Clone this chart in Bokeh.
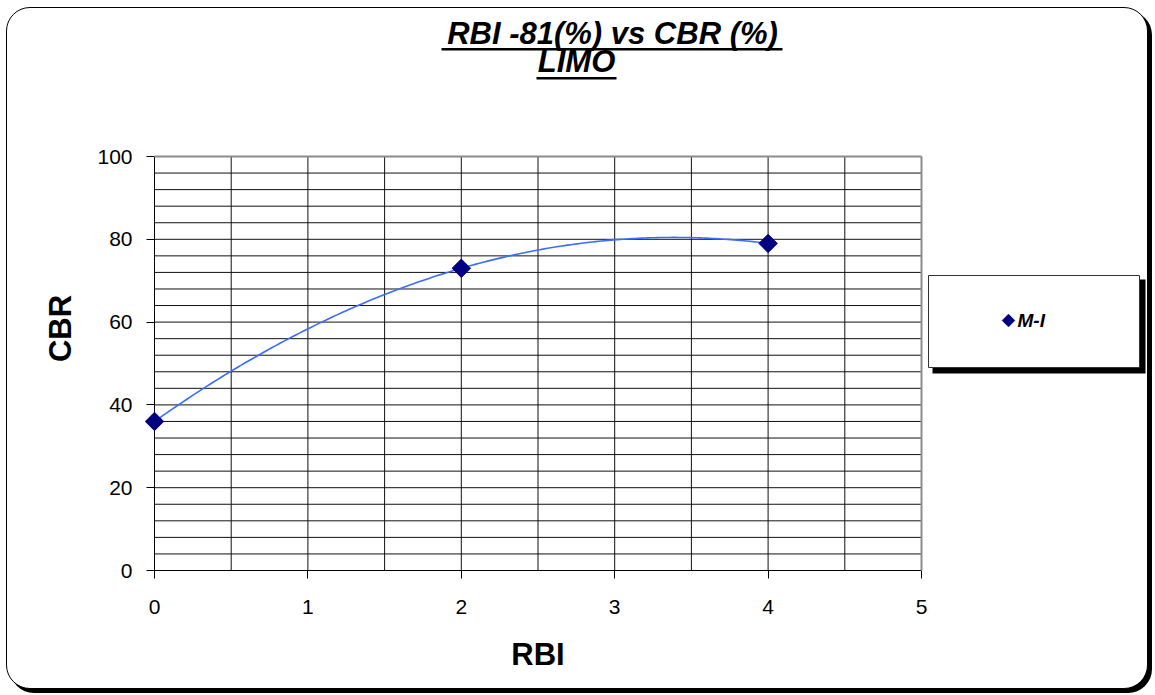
import numpy as np
from bokeh.plotting import figure
from bokeh.models import FixedTicker, Label, BoxAnnotation, PolyAnnotation, Range1d
from bokeh.embed import file_html
from bokeh.resources import INLINE

# ---- data -------------------------------------------------------------
rbi = [0, 2, 4]            # RBI (%)
cbr = [36, 73, 79]         # CBR (%)
series_name = "M-I"
x_ticks = [0, 1, 2, 3, 4, 5]
y_ticks = [0, 20, 40, 60, 80, 100]
x_grid = [0.5, 1, 1.5, 2, 2.5, 3, 3.5, 4, 4.5]
y_grid = list(range(4, 100, 4))
title_1 = "RBI -81(%) vs CBR (%)"
title_2 = "LIMO"

FONT = "Liberation Sans"

# ---- page geometry (pixels on the page) --------------------------------
OX, OY = 7, 8                  # canvas origin inside the rounded card
W, H = 1142, 682               # canvas size
FL, FR, FT, FB = 154, 921, 156, 570   # plot-area edges
X0, X1, Y0, Y1 = 0, 5, 0, 100


def dx(px):
    """page x pixel -> data x"""
    return X0 + (px - FL) / (FR - FL) * (X1 - X0)


def dy(py):
    """page y pixel -> data y"""
    return Y0 + (FB - py) / (FB - FT) * (Y1 - Y0)


# the frame fills the whole card; axes sit at fixed data locations
p = figure(width=W, height=H, title=None,
           x_range=Range1d(dx(OX), dx(OX + W)), y_range=Range1d(dy(OY + H), dy(OY)),
           output_backend="svg", toolbar_location=None,
           min_border=0, min_border_left=0, min_border_right=0,
           min_border_top=0, min_border_bottom=0)

# rounded card with a hard drop shadow around the whole chart
p.styles = {
    "position": "absolute", "left": "6px", "top": "7px",
    "border": "1px solid #000", "border-radius": "24px",
    "box-shadow": "4px 4px 0 0 #000", "background-color": "#fff",
}
p.border_fill_color = None
p.background_fill_color = None
p.outline_line_color = None
p.xgrid.visible = False
p.ygrid.visible = False

# plot-area grid: every 0.5 in RBI, every 4 in CBR
p.segment(x0=x_grid, y0=[Y0] * len(x_grid), x1=x_grid, y1=[Y1] * len(x_grid),
          line_color="#111111", line_width=1)
p.segment(x0=[X0] * len(y_grid), y0=y_grid, x1=[X1] * len(y_grid), y1=y_grid,
          line_color="#111111", line_width=1)
# grey top / right edges of the plot area
p.segment(x0=[X0, X1], y0=[Y1, Y0], x1=[X1, X1], y1=[Y1, Y1],
          line_color="#8c8c8c", line_width=2)

# axes
p.xaxis.ticker = FixedTicker(ticks=x_ticks)
p.yaxis.ticker = FixedTicker(ticks=y_ticks)
p.xaxis.fixed_location = Y0
p.yaxis.fixed_location = X0
p.xaxis.bounds = (X0, X1)
p.yaxis.bounds = (Y0, Y1)
for ax in (p.xaxis, p.yaxis):
    ax.level = "underlay"
    ax.axis_line_color = "black"
    ax.axis_line_width = 1
    ax.major_tick_line_color = "black"
    ax.major_tick_out = 8
    ax.major_tick_in = 0
    ax.minor_tick_out = 0
    ax.minor_tick_in = 0
    ax.major_label_text_font = FONT
    ax.major_label_text_font_size = "21px"
    ax.major_label_text_color = "black"
p.xaxis.major_label_standoff = 21
p.yaxis.major_label_standoff = 14
p.xaxis.axis_label = "RBI"
p.xaxis.axis_label_text_font = FONT
p.xaxis.axis_label_text_font_style = "bold"
p.xaxis.axis_label_text_font_size = "31px"
p.xaxis.axis_label_text_color = "black"
p.xaxis.axis_label_standoff = 20

# polynomial (order 2) trendline of the series
coef = np.polyfit(rbi, cbr, 2)
tx = np.linspace(min(rbi), max(rbi), 200)
ty = np.polyval(coef, tx)
p.line(tx, ty, line_color="#3b6cff", line_width=1.6)

# data points as navy diamonds
p.scatter(rbi, cbr, marker="square", angle=np.pi / 4, size=13,
          fill_color="#000080", line_color="#000080")

# y axis title
p.add_layout(Label(x=dx(60), y=dy(328), text="CBR", angle=np.pi / 2,
                   text_align="center", text_baseline="middle",
                   text_font=FONT, text_font_style="bold",
                   text_font_size="31px", text_color="black"))

# underlined two-line chart title
p.add_layout(Label(x=dx(612), y=dy(32.5), text=title_1,
                   text_align="center", text_baseline="middle",
                   text_font=FONT, text_font_style="bold italic",
                   text_font_size="31px", text_color="black"))
p.add_layout(BoxAnnotation(left=dx(441), right=dx(782), top=dy(47.5), bottom=dy(50),
                           fill_color="black", fill_alpha=1, line_color=None))
p.add_layout(Label(x=dx(576), y=dy(61), text=title_2,
                   text_align="center", text_baseline="middle",
                   text_font=FONT, text_font_style="bold italic",
                   text_font_size="31px", text_color="black"))
p.add_layout(BoxAnnotation(left=dx(536), right=dx(616), top=dy(76.5), bottom=dy(79),
                           fill_color="black", fill_alpha=1, line_color=None))

# legend box with shadow
p.add_layout(BoxAnnotation(left=dx(932), right=dx(1145), top=dy(279), bottom=dy(373),
                           fill_color="black", fill_alpha=1, line_color=None))
p.add_layout(BoxAnnotation(left=dx(928), right=dx(1139), top=dy(275), bottom=dy(367),
                           fill_color="white", fill_alpha=1,
                           line_color="#333333", line_width=1, line_alpha=1))
cx, cy, r = 1008, 320, 6.5
p.add_layout(PolyAnnotation(xs=[dx(cx), dx(cx + r), dx(cx), dx(cx - r)],
                            ys=[dy(cy - r), dy(cy), dy(cy + r), dy(cy)],
                            fill_color="#000080", fill_alpha=1, line_color="#000080"))
p.add_layout(Label(x=dx(1017), y=dy(320), text=series_name,
                   text_align="left", text_baseline="middle",
                   text_font=FONT, text_font_style="bold italic",
                   text_font_size="19px", text_color="black"))

open("out.html", "w").write(file_html(p, INLINE))
